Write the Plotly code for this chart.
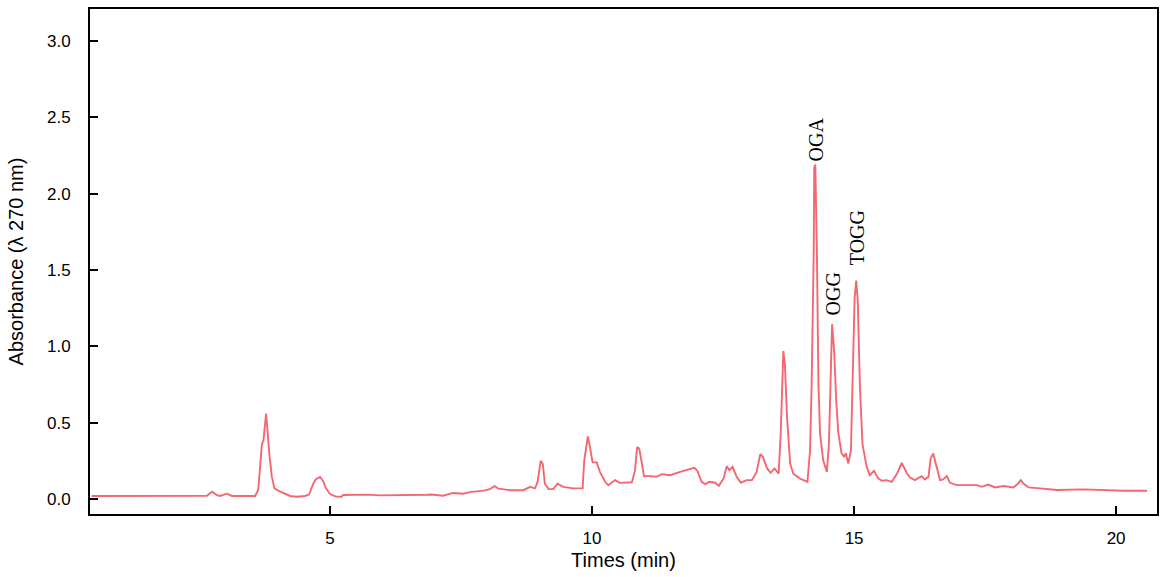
import plotly.graph_objects as go

# Retention time (min) and absorbance (AU)
time_min = [
    0.45, 1.56, 2.52, 2.65, 2.75, 2.84, 2.90, 3.03, 3.13, 3.57,
    3.63, 3.66, 3.70, 3.73, 3.78, 3.80, 3.84, 3.89, 3.94, 4.05,
    4.24, 4.36, 4.52, 4.60, 4.68, 4.73, 4.81, 4.87, 4.92, 5.00,
    5.11, 5.22, 5.25, 5.70, 5.95, 6.85, 6.93, 7.16, 7.35, 7.54,
    7.67, 7.93, 8.05, 8.14, 8.21, 8.44, 8.69, 8.82, 8.91, 8.96,
    9.02, 9.06, 9.10, 9.17, 9.26, 9.34, 9.45, 9.64, 9.82, 9.85,
    9.92, 9.96, 10.01, 10.09, 10.15, 10.25, 10.31, 10.44, 10.53, 10.76,
    10.82, 10.86, 10.90, 10.95, 10.99, 11.11, 11.23, 11.33, 11.49, 11.68,
    11.87, 11.95, 12.01, 12.09, 12.16, 12.24, 12.35, 12.42, 12.51, 12.57,
    12.62, 12.68, 12.76, 12.84, 12.95, 13.05, 13.14, 13.21, 13.26, 13.34,
    13.41, 13.48, 13.56, 13.60, 13.65, 13.68, 13.72, 13.78, 13.84, 13.97,
    14.11, 14.16, 14.19, 14.23, 14.24, 14.26, 14.29, 14.32, 14.35, 14.41,
    14.48, 14.52, 14.55, 14.58, 14.62, 14.66, 14.70, 14.76, 14.81, 14.84,
    14.89, 14.94, 14.97, 15.01, 15.04, 15.07, 15.11, 15.16, 15.24, 15.30,
    15.38, 15.46, 15.53, 15.62, 15.72, 15.82, 15.91, 16.01, 16.07, 16.16,
    16.29, 16.35, 16.42, 16.46, 16.51, 16.57, 16.64, 16.70, 16.77, 16.83,
    16.96, 17.34, 17.44, 17.56, 17.69, 17.85, 18.04, 18.12, 18.18, 18.23,
    18.33, 18.55, 18.87, 19.38, 19.69, 20.14, 20.59,
]
absorbance = [
    0.020, 0.020, 0.020, 0.022, 0.048, 0.026, 0.020, 0.035, 0.020, 0.020,
    0.059, 0.220, 0.360, 0.385, 0.560, 0.480, 0.300, 0.145, 0.070, 0.048,
    0.020, 0.015, 0.020, 0.029, 0.100, 0.130, 0.145, 0.117, 0.072, 0.033,
    0.016, 0.015, 0.026, 0.029, 0.024, 0.028, 0.030, 0.022, 0.040, 0.035,
    0.045, 0.055, 0.065, 0.085, 0.068, 0.058, 0.058, 0.080, 0.070, 0.110,
    0.250, 0.230, 0.100, 0.065, 0.065, 0.100, 0.080, 0.070, 0.070, 0.250,
    0.410, 0.340, 0.240, 0.240, 0.178, 0.113, 0.090, 0.124, 0.106, 0.110,
    0.189, 0.340, 0.330, 0.235, 0.150, 0.150, 0.146, 0.163, 0.156, 0.178,
    0.194, 0.204, 0.185, 0.113, 0.098, 0.113, 0.107, 0.087, 0.135, 0.215,
    0.189, 0.211, 0.146, 0.107, 0.124, 0.124, 0.178, 0.293, 0.276, 0.200,
    0.172, 0.200, 0.166, 0.430, 0.970, 0.880, 0.540, 0.233, 0.166, 0.134,
    0.113, 0.320, 0.750, 1.620, 2.170, 2.190, 1.620, 0.750, 0.430, 0.254,
    0.178, 0.362, 0.753, 1.145, 0.970, 0.640, 0.430, 0.300, 0.276, 0.300,
    0.233, 0.320, 0.750, 1.317, 1.430, 1.300, 0.750, 0.360, 0.211, 0.156,
    0.185, 0.135, 0.120, 0.124, 0.113, 0.167, 0.236, 0.167, 0.141, 0.124,
    0.150, 0.128, 0.145, 0.265, 0.298, 0.211, 0.124, 0.128, 0.150, 0.106,
    0.091, 0.091, 0.080, 0.095, 0.076, 0.085, 0.076, 0.098, 0.124, 0.102,
    0.076, 0.070, 0.059, 0.063, 0.059, 0.054, 0.054,
]

# Peak labels
peak_names = ["OGA", "OGG", "TOGG"]
peak_times = [14.28, 14.59, 15.07]
peak_label_base = [2.20, 1.19, 1.52]

x_ticks = [5, 10, 15, 20]
y_ticks = [0.0, 0.5, 1.0, 1.5, 2.0, 2.5, 3.0]

fig = go.Figure()
fig.add_trace(go.Scatter(
    x=time_min, y=absorbance, mode="lines",
    line=dict(color="rgb(244,102,112)", width=1.9),
    hoverinfo="x+y", showlegend=False,
))

for name, t, a in zip(peak_names, peak_times, peak_label_base):
    fig.add_annotation(
        x=t, y=a, text=name, textangle=-90, showarrow=False,
        xanchor="center", yanchor="bottom",
        font=dict(family="Liberation Serif, Times New Roman, serif", size=20, color="black"),
    )

sans = "Liberation Sans, Arial, sans-serif"
axis_common = dict(
    showline=True, linecolor="black", linewidth=2, mirror=True,
    ticks="inside", ticklen=8, tickwidth=2, tickcolor="black",
    showgrid=False, zeroline=False,
    tickfont=dict(family=sans, size=17, color="black"),
)

fig.update_layout(
    width=1176, height=577,
    margin=dict(l=90, r=19, t=7, b=63),
    plot_bgcolor="white", paper_bgcolor="white",
    xaxis=dict(
        range=[0.42, 20.78], tickvals=x_ticks,
        title=dict(text="Times (min)", standoff=6,
                   font=dict(family=sans, size=20, color="black")),
        ticklabelstandoff=8,
        **axis_common,
    ),
    yaxis=dict(
        range=[-0.098, 3.209], tickvals=y_ticks, tickformat=".1f",
        title=dict(text="Absorbance (λ 270 nm)", standoff=18,
                   font=dict(family=sans, size=20, color="black")),
        ticklabelstandoff=14,
        **axis_common,
    ),
)

fig.write_html(
    "out.html",
    config={"displayModeBar": False},
    post_script="document.body.style.margin='0px';",
)
